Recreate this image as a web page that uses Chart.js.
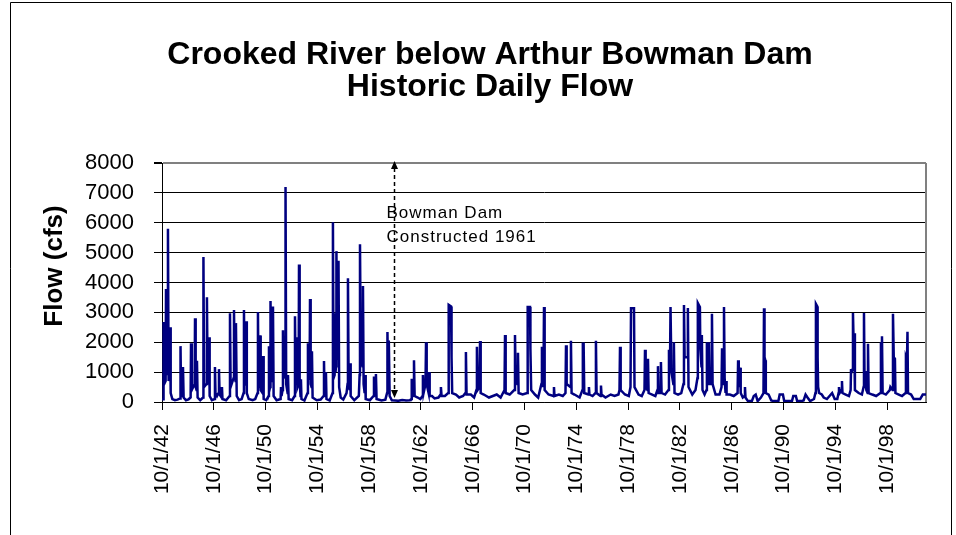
<!DOCTYPE html>
<html>
<head>
<meta charset="utf-8">
<script src="https://cdn.jsdelivr.net/npm/chart.js@4.4.1/dist/chart.umd.min.js"></script>
<style>
  html, body { margin: 0; padding: 0; background: #ffffff; }
  #wrap { width: 956px; height: 535px; position: relative; }
</style>
</head>
<body>
<div id="wrap"><canvas id="chart" width="956" height="535"></canvas></div>
<script>
// ---- text ----
const chartTitle = ['Crooked River below Arthur Bowman Dam', 'Historic Daily Flow'];
const yAxisTitle = 'Flow (cfs)';
const damNote = ['Bowman Dam', 'Constructed 1961'];

// ---- axes ----
const tickLabels = ['10/1/42', '10/1/46', '10/1/50', '10/1/54', '10/1/58', '10/1/62', '10/1/66',
  '10/1/70', '10/1/74', '10/1/78', '10/1/82', '10/1/86', '10/1/90', '10/1/94', '10/1/98'];
const firstTickYear = 1942.75;   // 10/1/42 as a decimal year
const tickStepYears = 4;
const periodStart = 1942.75;
const periodEnd = 2001.75;
const yMax = 8000;
const yStep = 1000;
const damMarkerYear = 1960.66;

// ---- daily flow record, [decimal year, cfs] ----
const flow1940s = [
  [1942.75, 80], [1942.84, 90], [1942.87, 2680], [1942.92, 600], [1943.03, 700], [1943.06, 3780],
  [1943.12, 900], [1943.18, 1200], [1943.21, 5800], [1943.26, 700], [1943.34, 900], [1943.37, 2500],
  [1943.42, 300], [1943.55, 100], [1943.75, 60], [1943.95, 80], [1944.15, 120], [1944.18, 1870],
  [1944.22, 300], [1944.34, 200], [1944.37, 1170], [1944.42, 150], [1944.6, 60], [1944.8, 90],
  [1944.96, 150], [1944.99, 1970], [1945.05, 400], [1945.27, 600], [1945.30, 2800], [1945.35, 500],
  [1945.42, 400], [1945.45, 1380], [1945.5, 150], [1945.7, 60], [1945.92, 150], [1945.95, 4850],
  [1946.0, 500], [1946.19, 600], [1946.22, 3510], [1946.27, 800], [1946.35, 600], [1946.38, 2170],
  [1946.43, 200], [1946.6, 60], [1946.81, 100], [1946.84, 1170], [1946.88, 300], [1947.0, 200],
  [1947.12, 300], [1947.15, 1100], [1947.2, 250], [1947.35, 150], [1947.38, 500], [1947.42, 100],
  [1947.7, 60], [1947.97, 200], [1948.0, 2970], [1948.05, 500], [1948.28, 800], [1948.31, 3080],
  [1948.36, 1000], [1948.43, 700], [1948.46, 2640], [1948.52, 200], [1948.7, 60], [1948.9, 100],
  [1949.05, 300], [1949.08, 3080], [1949.13, 600], [1949.21, 700], [1949.24, 2700], [1949.3, 300],
  [1949.45, 100], [1949.75, 60]
];
const flow1950s = [
  [1949.95, 100], [1950.13, 300], [1950.16, 3010], [1950.2, 500], [1950.29, 500], [1950.32, 2230],
  [1950.37, 400], [1950.52, 300], [1950.55, 1540], [1950.6, 100], [1950.8, 60], [1950.98, 200],
  [1951.01, 1870], [1951.05, 400], [1951.10, 500], [1951.13, 3380], [1951.18, 900], [1951.29, 700],
  [1951.32, 3200], [1951.37, 200], [1951.6, 60], [1951.91, 100], [1951.94, 500], [1951.98, 200],
  [1952.06, 400], [1952.09, 2400], [1952.13, 800], [1952.26, 900], [1952.29, 7200], [1952.34, 600],
  [1952.45, 300], [1952.48, 900], [1952.53, 100], [1952.8, 60], [1952.99, 200], [1953.02, 2870],
  [1953.07, 700], [1953.14, 600], [1953.17, 2170], [1953.22, 500], [1953.30, 600], [1953.33, 4600],
  [1953.38, 700], [1953.45, 200], [1953.48, 760], [1953.52, 100], [1953.75, 50], [1953.99, 300],
  [1954.02, 1970], [1954.07, 800], [1954.15, 900], [1954.18, 3450], [1954.23, 600], [1954.30, 500],
  [1954.33, 1700], [1954.38, 150], [1954.7, 60], [1955.0, 80], [1955.23, 200], [1955.26, 1370],
  [1955.3, 300], [1955.38, 200], [1955.41, 1000], [1955.45, 100], [1955.7, 50], [1955.92, 300],
  [1955.95, 6020], [1956.0, 800], [1956.08, 900], [1956.11, 2970], [1956.15, 1000], [1956.19, 1200],
  [1956.22, 5050], [1956.28, 1500], [1956.35, 1600], [1956.38, 4730], [1956.43, 500], [1956.55, 150],
  [1956.75, 80], [1957.0, 300], [1957.08, 600], [1957.11, 4140], [1957.16, 800], [1957.24, 400],
  [1957.27, 1300], [1957.32, 200], [1957.6, 60], [1957.95, 200], [1958.01, 900], [1958.04, 5280],
  [1958.1, 1500], [1958.24, 1200], [1958.27, 3880], [1958.32, 600], [1958.40, 300], [1958.43, 900],
  [1958.48, 100], [1958.8, 60], [1959.09, 200], [1959.12, 850], [1959.17, 300], [1959.24, 300],
  [1959.27, 940], [1959.32, 100], [1959.7, 50]
];
const flow1960s = [
  [1960.0, 80], [1960.13, 300], [1960.16, 2340], [1960.21, 800], [1960.25, 700], [1960.28, 2060],
  [1960.33, 200], [1960.5, 60], [1960.75, 50], [1961.0, 40], [1961.3, 70], [1961.6, 50], [1961.9, 60],
  [1962.0, 100], [1962.02, 400], [1962.05, 780], [1962.09, 200], [1962.18, 300], [1962.21, 1400],
  [1962.26, 200], [1962.5, 150], [1962.7, 100], [1962.87, 200], [1962.90, 900], [1962.95, 300],
  [1963.1, 600], [1963.14, 2000], [1963.19, 600], [1963.34, 300], [1963.37, 1000], [1963.42, 200],
  [1963.6, 200], [1963.8, 120], [1964.1, 150], [1964.26, 250], [1964.29, 500], [1964.34, 200],
  [1964.6, 200], [1964.85, 300], [1964.89, 3250], [1965.07, 3200], [1965.11, 1500], [1965.16, 300],
  [1965.45, 250], [1965.7, 150], [1966.0, 200], [1966.18, 300], [1966.22, 1670], [1966.27, 250],
  [1966.6, 250], [1966.85, 150], [1967.03, 400], [1967.07, 1850], [1967.12, 400], [1967.27, 500],
  [1967.31, 2040], [1967.36, 300], [1967.6, 250], [1968.0, 150], [1968.3, 200], [1968.6, 250],
  [1968.9, 150], [1969.2, 400], [1969.24, 2240], [1969.29, 300], [1969.6, 250]
];
const flow1970s = [
  [1969.95, 400], [1970.01, 2240], [1970.06, 800], [1970.20, 600], [1970.24, 1650], [1970.29, 300],
  [1970.6, 250], [1970.95, 300], [1970.99, 3180], [1971.17, 3180], [1971.2, 1800], [1971.26, 400],
  [1971.55, 250], [1971.8, 150], [1972.05, 600], [1972.09, 1850], [1972.14, 500], [1972.21, 800],
  [1972.25, 3180], [1972.3, 400], [1972.6, 250], [1972.98, 200], [1973.02, 500], [1973.06, 200],
  [1973.4, 250], [1973.7, 200], [1973.91, 300], [1973.95, 1900], [1974.0, 600], [1974.29, 500],
  [1974.33, 2050], [1974.38, 300], [1974.6, 250], [1975.0, 150], [1975.22, 400], [1975.25, 1950],
  [1975.31, 1950], [1975.36, 300], [1975.68, 250], [1975.72, 500], [1975.76, 250], [1976.0, 200],
  [1976.22, 300], [1976.26, 2050], [1976.31, 300], [1976.61, 200], [1976.65, 550], [1976.69, 250],
  [1977.0, 150], [1977.4, 250], [1977.7, 200], [1978.0, 250], [1978.08, 400], [1978.12, 1850],
  [1978.17, 400], [1978.5, 250], [1978.8, 200], [1978.93, 500], [1978.97, 3140], [1979.2, 3140],
  [1979.24, 500], [1979.55, 250], [1979.8, 200]
];
const flow1980s = [
  [1980.01, 400], [1980.05, 1750], [1980.1, 500], [1980.24, 400], [1980.28, 1450], [1980.33, 300],
  [1980.6, 250], [1980.85, 200], [1981.01, 400], [1981.05, 1200], [1981.1, 300], [1981.24, 300],
  [1981.28, 1340], [1981.33, 300], [1981.6, 250], [1981.86, 400], [1981.9, 1750], [1981.98, 1200],
  [1982.02, 3180], [1982.09, 1000], [1982.24, 600], [1982.28, 2000], [1982.33, 300], [1982.6, 250],
  [1982.85, 300], [1983.02, 600], [1983.06, 3250], [1983.11, 1500], [1983.32, 1500], [1983.36, 3150],
  [1983.41, 500], [1983.7, 250], [1983.95, 400], [1984.1, 800], [1984.13, 3310], [1984.29, 3180],
  [1984.32, 1800], [1984.41, 1200], [1984.44, 2240], [1984.49, 400], [1984.65, 250], [1984.8, 400],
  [1984.83, 2000], [1984.87, 800], [1984.95, 600], [1984.99, 2000], [1985.05, 600], [1985.18, 600],
  [1985.22, 2950], [1985.27, 600], [1985.5, 250], [1985.8, 250], [1985.96, 500], [1986.0, 1800],
  [1986.06, 800], [1986.11, 600], [1986.15, 3180], [1986.2, 800], [1986.27, 300], [1986.31, 700],
  [1986.35, 250], [1986.6, 250], [1986.9, 200], [1987.2, 300], [1987.24, 1400], [1987.29, 800],
  [1987.35, 500], [1987.39, 1150], [1987.44, 300], [1987.6, 150], [1987.73, 200], [1987.77, 500],
  [1987.81, 150], [1988.0, 30], [1988.3, 30], [1988.45, 200], [1988.6, 250], [1988.75, 30],
  [1989.0, 150], [1989.2, 300], [1989.24, 3140], [1989.28, 1500], [1989.34, 1400], [1989.38, 300],
  [1989.6, 250], [1989.8, 50]
];
const flow1990s = [
  [1990.0, 30], [1990.35, 30], [1990.45, 250], [1990.7, 250], [1990.8, 30], [1991.1, 30],
  [1991.4, 30], [1991.5, 200], [1991.7, 200], [1991.8, 30], [1992.1, 30], [1992.3, 50],
  [1992.45, 250], [1992.6, 150], [1992.8, 30], [1993.1, 100], [1993.21, 300], [1993.25, 3280],
  [1993.35, 3200], [1993.38, 1500], [1993.42, 500], [1993.5, 300], [1993.7, 250], [1993.85, 150],
  [1994.1, 100], [1994.3, 200], [1994.5, 300], [1994.7, 100], [1994.9, 100], [1995.0, 300],
  [1995.03, 500], [1995.08, 300], [1995.22, 400], [1995.26, 700], [1995.3, 300], [1995.55, 250],
  [1995.8, 200], [1995.93, 400], [1995.96, 1100], [1996.0, 1000], [1996.08, 1100], [1996.11, 2980],
  [1996.16, 2000], [1996.2, 2300], [1996.26, 400], [1996.55, 300], [1996.8, 250], [1996.93, 500],
  [1996.96, 2980], [1997.0, 1000], [1997.1, 1000], [1997.14, 400], [1997.24, 300], [1997.27, 1950],
  [1997.32, 300], [1997.6, 250], [1997.9, 200], [1998.23, 300], [1998.27, 2000], [1998.31, 1800],
  [1998.35, 2200], [1998.4, 300], [1998.65, 250], [1998.95, 400], [1999.0, 500], [1999.17, 400],
  [1999.2, 2950], [1999.26, 1500], [1999.35, 1450], [1999.39, 300], [1999.65, 250], [1999.9, 200]
];
const flow2000s = [
  [2000.17, 300], [2000.2, 1500], [2000.28, 1400], [2000.32, 2350], [2000.36, 300], [2000.6, 250],
  [2000.8, 100], [2001.0, 100], [2001.3, 100], [2001.5, 250], [2001.75, 250]
];

const flowRecord = [].concat(flow1940s, flow1950s, flow1960s, flow1970s, flow1980s, flow1990s, flow2000s)
  .map(([x, y]) => ({ x, y }));

const FONT = "'Liberation Sans', Arial, sans-serif";

// outer frame, the chart heading and the vertical axis caption
const framePlugin = {
  id: 'frame',
  beforeDraw(chart) {
    const ctx = chart.ctx;
    ctx.save();
    ctx.fillStyle = '#ffffff';
    ctx.fillRect(0, 0, chart.width, chart.height);
    ctx.strokeStyle = '#000000';
    ctx.lineWidth = 1;
    ctx.beginPath();
    ctx.moveTo(10.5, chart.height);
    ctx.lineTo(10.5, 2.5);
    ctx.lineTo(951.5, 2.5);
    ctx.lineTo(951.5, chart.height);
    ctx.stroke();
    ctx.fillStyle = '#000000';
    ctx.font = 'bold 32px ' + FONT;
    ctx.textAlign = 'center';
    ctx.textBaseline = 'middle';
    ctx.fillText(chartTitle[0], 490, 55);
    ctx.fillText(chartTitle[1], 490, 87);
    ctx.translate(55, 266);
    ctx.rotate(-Math.PI / 2);
    ctx.font = 'bold 26px ' + FONT;
    ctx.fillText(yAxisTitle, 0, 0);
    ctx.restore();
  }
};

// gray right edge of the plot area
const plotEdgePlugin = {
  id: 'plotEdge',
  beforeDatasetsDraw(chart) {
    const { ctx, chartArea: a } = chart;
    ctx.save();
    ctx.strokeStyle = '#808080';
    ctx.lineWidth = 2;
    ctx.beginPath();
    ctx.moveTo(a.right, a.top);
    ctx.lineTo(a.right, a.bottom);
    ctx.stroke();
    ctx.restore();
  }
};

// dashed double arrow marking the dam, with its note
const damPlugin = {
  id: 'damMarker',
  afterDatasetsDraw(chart) {
    const { ctx } = chart;
    const xs = chart.scales.x, ys = chart.scales.y;
    const x = Math.round(xs.getPixelForValue(damMarkerYear)) + 0.5;
    const yTop = ys.getPixelForValue(yMax) - 2;
    const yBot = ys.getPixelForValue(130);
    ctx.save();
    ctx.strokeStyle = '#000000';
    ctx.fillStyle = '#000000';
    ctx.lineWidth = 1.5;
    ctx.setLineDash([4, 3]);
    ctx.beginPath();
    ctx.moveTo(x, yTop + 7);
    ctx.lineTo(x, yBot - 7);
    ctx.stroke();
    ctx.setLineDash([]);
    ctx.beginPath();
    ctx.moveTo(x, yTop); ctx.lineTo(x - 3.5, yTop + 8); ctx.lineTo(x + 3.5, yTop + 8); ctx.closePath();
    ctx.fill();
    ctx.beginPath();
    ctx.moveTo(x, yBot); ctx.lineTo(x - 3.5, yBot - 8); ctx.lineTo(x + 3.5, yBot - 8); ctx.closePath();
    ctx.fill();
    ctx.font = '17px ' + FONT;
    ctx.letterSpacing = '1px';
    ctx.textAlign = 'left';
    ctx.textBaseline = 'alphabetic';
    ctx.fillText(damNote[0], x - 8, 218);
    ctx.fillText(damNote[1], x - 8, 242);
    ctx.restore();
  }
};

new Chart(document.getElementById('chart'), {
  type: 'line',
  data: {
    datasets: [{
      data: flowRecord,
      borderColor: '#000080',
      borderWidth: 2.5,
      pointRadius: 0,
      tension: 0,
      fill: false
    }]
  },
  options: {
    responsive: false,
    animation: false,
    devicePixelRatio: 1,
    parsing: false,
    layout: { padding: { top: 163, right: 30, bottom: 0, left: 0 } },
    plugins: {
      legend: { display: false },
      title: { display: false },
      tooltip: { enabled: false }
    },
    scales: {
      x: {
        type: 'linear',
        min: periodStart,
        max: periodEnd,
        afterBuildTicks(axis) {
          axis.ticks = tickLabels.map((_, i) => ({ value: firstTickYear + tickStepYears * i }));
        },
        afterFit(axis) { axis.height = 133; },
        ticks: {
          autoSkip: false,
          minRotation: 90,
          maxRotation: 90,
          padding: 14,
          color: '#000000',
          font: { family: FONT, size: 21 },
          callback: (value, index) => tickLabels[index]
        },
        grid: {
          drawOnChartArea: false,
          drawTicks: true,
          tickLength: 8,
          tickColor: '#000000'
        },
        border: { color: '#000000', width: 1 }
      },
      y: {
        min: 0,
        max: yMax,
        afterFit(axis) { axis.width = 162; },
        ticks: {
          stepSize: yStep,
          padding: 20,
          color: '#000000',
          font: { family: FONT, size: 22 },
          callback: (value) => String(value)
        },
        grid: {
          color: (c) => (c.tick && c.tick.value === yMax ? '#808080' : '#000000'),
          lineWidth: (c) => (c.tick && c.tick.value === yMax ? 2 : 1),
          drawTicks: true,
          tickLength: 8,
          tickColor: '#000000'
        },
        border: { color: '#000000', width: 1 },
        title: { display: false }
      }
    }
  },
  plugins: [framePlugin, plotEdgePlugin, damPlugin]
});
</script>
</body>
</html>
